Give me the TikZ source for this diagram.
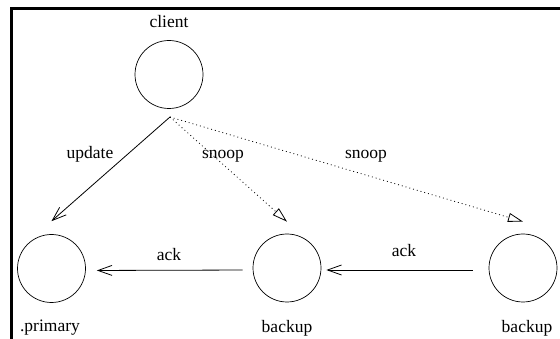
\documentclass[tikz,border=0pt]{standalone}
\usepackage{fontspec}
\setmainfont{Liberation Serif}
\usetikzlibrary{arrows.meta,positioning}

\begin{document}
\begin{tikzpicture}[x=1pt,y=-1pt,
    proc/.style={draw, circle, minimum size=68pt, inner sep=0pt, line width=0.7pt},
    lbl/.style={font=\fontsize{17.5}{20}\selectfont, anchor=base, inner sep=0pt},
    msg/.style={line width=0.8pt, -{Straight Barb[length=14pt,width=10pt]}},
    snp/.style={line width=0.8pt, dash pattern=on 0.9pt off 3pt, -{Triangle[open,length=15pt,width=9pt]}}]
        \useasboundingbox (0,0) rectangle (560,339);
        % Frame
        \draw[line width=3pt] (11,339) -- (11,9) -- (560,9);

        % Processes
        \node[proc] (client) at (169,74.5) {};
        \node[proc] (primary) at (51.5,268.5) {};
        \node[proc] (backupA) at (287,268) {};
        \node[proc] (backupB) at (523,268) {};

        % Names
        \node[lbl] (clientlbl) at (169,28) {client};
        \node[lbl] (primarylbl) at (50,331) {.primary};
        \node[lbl] (backupAlbl) at (287,332) {backup};
        \node[lbl] (backupBlbl) at (527,332) {backup};

        % Messages
        \coordinate (fork) at (170,117);
        \draw[msg] (fork) -- ([yshift=13pt]primary.north);
        \draw[snp] (fork) -- ([yshift=12pt]backupA.north);
        \draw[snp] (fork) -- ([yshift=12pt]backupB.north);
        \draw[msg, shorten <=10pt, shorten >=11pt] ([yshift=-2pt]backupA.west) -- ([yshift=-2pt]primary.east);
        \draw[msg, shorten <=16pt, shorten >=5pt] ([yshift=-2pt]backupB.west) -- ([yshift=-2pt]backupA.east);

        % Labels
        \node[lbl] (updatelbl) at (90,159) {update};
        \node[lbl] (snoopAlbl) at (223,159) {snoop};
        \node[lbl] (snoopBlbl) at (366,159) {snoop};
        \node[lbl] (ackAlbl) at (169,261) {ack};
        \node[lbl] (ackBlbl) at (404,257) {ack};
    \end{tikzpicture}
\end{document}
